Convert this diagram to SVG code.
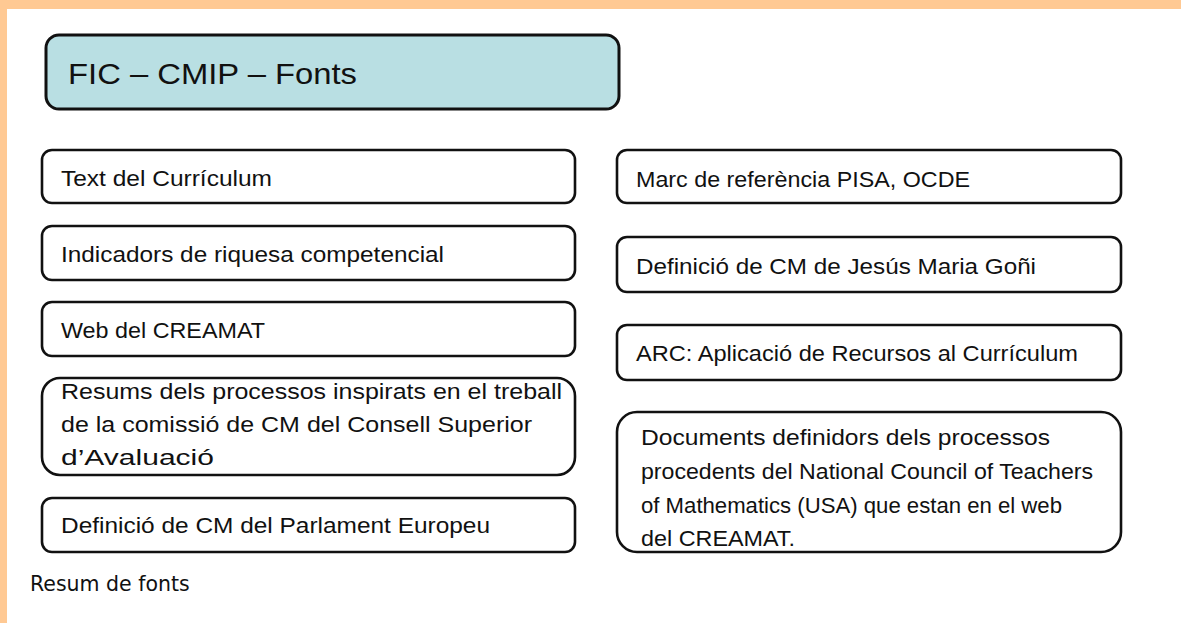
<svg xmlns="http://www.w3.org/2000/svg" width="1181" height="623" viewBox="0 0 1181 623">
<style>
.box{fill:#fff;stroke:#111;stroke-width:2.6}
.title{fill:#b9dfe3;stroke:#111;stroke-width:3}
.t{font-family:"Liberation Sans","DejaVu Sans",sans-serif;font-size:22px;fill:#111}
.tt{font-family:"Liberation Sans","DejaVu Sans",sans-serif;font-size:29px;fill:#111}
.cap{font-family:"DejaVu Sans",sans-serif;font-size:20.5px;fill:#111}
</style>
<rect x="0" y="0" width="1181" height="623" fill="#fff"/>
<rect x="0" y="0" width="1181" height="9" fill="#ffc993"/>
<rect x="0" y="0" width="7" height="623" fill="#ffc993"/>
<g id="title">
<rect class="title" x="46" y="35" width="573" height="74" rx="13"/>
<text class="tt" x="68" y="84" textLength="289" lengthAdjust="spacingAndGlyphs">FIC – CMIP – Fonts</text>
</g>
<g id="n1">
<rect class="box" x="42" y="150" width="533" height="53" rx="10"/>
<text class="t" x="61" y="186" textLength="211" lengthAdjust="spacingAndGlyphs">Text del Currículum</text>
</g>
<g id="n2">
<rect class="box" x="42" y="226" width="533" height="54" rx="10"/>
<text class="t" x="61" y="262" textLength="383" lengthAdjust="spacingAndGlyphs">Indicadors de riquesa competencial</text>
</g>
<g id="n3">
<rect class="box" x="42" y="302" width="533" height="54" rx="10"/>
<text class="t" x="61" y="338" textLength="204" lengthAdjust="spacingAndGlyphs">Web del CREAMAT</text>
</g>
<g id="n4">
<rect class="box" x="42" y="378" width="533" height="97" rx="18"/>
<text class="t" x="61" y="399" textLength="501" lengthAdjust="spacingAndGlyphs">Resums dels processos inspirats en el treball</text>
<text class="t" x="61" y="432" textLength="471" lengthAdjust="spacingAndGlyphs">de la comissió de CM del Consell Superior</text>
<text class="t" x="61" y="465" textLength="153" lengthAdjust="spacingAndGlyphs">d’Avaluació</text>
</g>
<g id="n5">
<rect class="box" x="42" y="498" width="533" height="54" rx="10"/>
<text class="t" x="61" y="533" textLength="429" lengthAdjust="spacingAndGlyphs">Definició de CM del Parlament Europeu</text>
</g>
<g id="n6">
<rect class="box" x="617" y="150" width="504" height="53" rx="10"/>
<text class="t" x="636" y="187" textLength="334" lengthAdjust="spacingAndGlyphs">Marc de referència PISA, OCDE</text>
</g>
<g id="n7">
<rect class="box" x="617" y="237" width="504" height="55" rx="10"/>
<text class="t" x="636" y="274" textLength="400" lengthAdjust="spacingAndGlyphs">Definició de CM de Jesús Maria Goñi</text>
</g>
<g id="n8">
<rect class="box" x="617" y="325" width="504" height="55" rx="10"/>
<text class="t" x="636" y="361" textLength="442" lengthAdjust="spacingAndGlyphs">ARC: Aplicació de Recursos al Currículum</text>
</g>
<g id="n9">
<rect class="box" x="617" y="412" width="504" height="140" rx="20"/>
<text class="t" x="641" y="445" textLength="409" lengthAdjust="spacingAndGlyphs">Documents definidors dels processos</text>
<text class="t" x="641" y="479" textLength="452" lengthAdjust="spacingAndGlyphs">procedents del National Council of Teachers</text>
<text class="t" x="641" y="513" textLength="421" lengthAdjust="spacingAndGlyphs">of Mathematics (USA) que estan en el web</text>
<text class="t" x="641" y="546" textLength="154" lengthAdjust="spacingAndGlyphs">del CREAMAT.</text>
</g>
<g id="connectors"/>
<text class="cap" x="30" y="591">Resum de fonts</text>
</svg>
